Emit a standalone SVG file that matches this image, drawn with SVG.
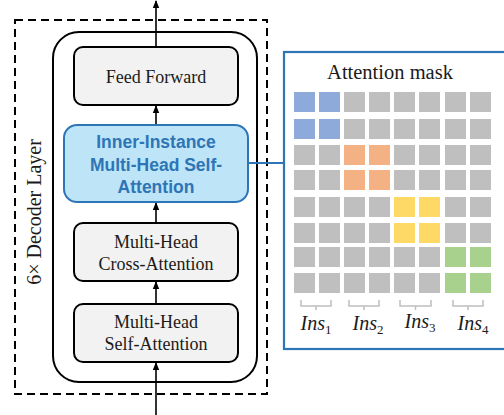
<svg xmlns="http://www.w3.org/2000/svg" width="504" height="415" viewBox="0 0 504 415">
<style>
.box{fill:#f2f2f2;stroke:#000;stroke-width:2}
.t{font-family:"Liberation Serif","Times New Roman",serif;font-size:18px;fill:#1a1a1a;text-anchor:middle}
.bt{font-family:"Liberation Sans",Arial,sans-serif;font-size:17.5px;font-weight:bold;fill:#2e75b6;text-anchor:middle}
.ar{stroke:#000;stroke-width:1.6;fill:none;marker-end:url(#ah)}
.g{fill:#bfbfbf}.b{fill:#8eaadb}.o{fill:#f4b183}.y{fill:#ffd966}.gr{fill:#a9d18e}
.br{fill:none;stroke:#bfbfbf;stroke-width:1.5}
.ins{font-family:"Liberation Serif","Times New Roman",serif;font-style:italic;font-size:20px;fill:#1a1a1a;text-anchor:middle}
</style>
<defs>
<marker id="ah" viewBox="0 0 8 8" refX="7" refY="4" markerWidth="8" markerHeight="8" markerUnits="userSpaceOnUse" orient="auto">
<path d="M0,0.8 L8,4 L0,7.2 z" fill="#000"/>
</marker>
</defs>
<g id="decoder-layer">
<rect x="15" y="20" width="252" height="374" fill="none" stroke="#000" stroke-width="2" stroke-dasharray="8,5"/>
<rect x="53" y="32" width="204" height="350" rx="26" fill="#fff" stroke="#000" stroke-width="2"/>
<text class="t" style="font-size:20px" transform="translate(41,212) rotate(-90)">6× Decoder Layer</text>
</g>
<g id="connectors">
<line class="ar" x1="156" y1="47" x2="156" y2="1"/>
<line class="ar" x1="156" y1="125" x2="156" y2="106"/>
<line class="ar" x1="156" y1="223" x2="156" y2="203"/>
<line class="ar" x1="156" y1="304" x2="156" y2="282"/>
<line class="ar" x1="156" y1="415" x2="156" y2="363"/>
<line x1="248" y1="163" x2="284" y2="163" stroke="#2e75b6" stroke-width="2"/>
</g>
<g id="feed-forward">
<rect class="box" x="74" y="47" width="164" height="58" rx="9"/>
<text class="t" x="156" y="83">Feed Forward</text>
</g>
<g id="inner-instance">
<rect x="64" y="125" width="184" height="77" rx="13" fill="#bde4f7" stroke="#2e75b6" stroke-width="2"/>
<text class="bt" x="156" y="148">Inner-Instance</text>
<text class="bt" x="156" y="171">Multi-Head Self-</text>
<text class="bt" x="156" y="193">Attention</text>
</g>
<g id="cross-attention">
<rect class="box" x="74" y="223" width="164" height="58" rx="9"/>
<text class="t" x="156" y="248">Multi-Head</text>
<text class="t" x="156" y="270">Cross-Attention</text>
</g>
<g id="self-attention">
<rect class="box" x="74" y="304" width="164" height="58" rx="9"/>
<text class="t" x="156" y="328">Multi-Head</text>
<text class="t" x="156" y="350">Self-Attention</text>
</g>
<g id="attention-mask">
<rect x="284" y="52" width="224" height="297" fill="#fff" stroke="#2e75b6" stroke-width="2.2"/>
<text class="t" x="390" y="79" style="font-size:20.5px">Attention mask</text>
<g>
<rect class="b" x="294" y="92" width="21" height="20"/><rect class="b" x="319" y="92" width="21" height="20"/><rect class="g" x="344" y="92" width="21" height="20"/><rect class="g" x="369" y="92" width="21" height="20"/><rect class="g" x="394" y="92" width="21" height="20"/><rect class="g" x="419" y="92" width="21" height="20"/><rect class="g" x="445" y="92" width="21" height="20"/><rect class="g" x="470" y="92" width="21" height="20"/>
<rect class="b" x="294" y="119" width="21" height="20"/><rect class="b" x="319" y="119" width="21" height="20"/><rect class="g" x="344" y="119" width="21" height="20"/><rect class="g" x="369" y="119" width="21" height="20"/><rect class="g" x="394" y="119" width="21" height="20"/><rect class="g" x="419" y="119" width="21" height="20"/><rect class="g" x="445" y="119" width="21" height="20"/><rect class="g" x="470" y="119" width="21" height="20"/>
<rect class="g" x="294" y="145" width="21" height="20"/><rect class="g" x="319" y="145" width="21" height="20"/><rect class="o" x="344" y="145" width="21" height="20"/><rect class="o" x="369" y="145" width="21" height="20"/><rect class="g" x="394" y="145" width="21" height="20"/><rect class="g" x="419" y="145" width="21" height="20"/><rect class="g" x="445" y="145" width="21" height="20"/><rect class="g" x="470" y="145" width="21" height="20"/>
<rect class="g" x="294" y="170" width="21" height="20"/><rect class="g" x="319" y="170" width="21" height="20"/><rect class="o" x="344" y="170" width="21" height="20"/><rect class="o" x="369" y="170" width="21" height="20"/><rect class="g" x="394" y="170" width="21" height="20"/><rect class="g" x="419" y="170" width="21" height="20"/><rect class="g" x="445" y="170" width="21" height="20"/><rect class="g" x="470" y="170" width="21" height="20"/>
<rect class="g" x="294" y="197" width="21" height="20"/><rect class="g" x="319" y="197" width="21" height="20"/><rect class="g" x="344" y="197" width="21" height="20"/><rect class="g" x="369" y="197" width="21" height="20"/><rect class="y" x="394" y="197" width="21" height="20"/><rect class="y" x="419" y="197" width="21" height="20"/><rect class="g" x="445" y="197" width="21" height="20"/><rect class="g" x="470" y="197" width="21" height="20"/>
<rect class="g" x="294" y="223" width="21" height="20"/><rect class="g" x="319" y="223" width="21" height="20"/><rect class="g" x="344" y="223" width="21" height="20"/><rect class="g" x="369" y="223" width="21" height="20"/><rect class="y" x="394" y="223" width="21" height="20"/><rect class="y" x="419" y="223" width="21" height="20"/><rect class="g" x="445" y="223" width="21" height="20"/><rect class="g" x="470" y="223" width="21" height="20"/>
<rect class="g" x="294" y="247" width="21" height="20"/><rect class="g" x="319" y="247" width="21" height="20"/><rect class="g" x="344" y="247" width="21" height="20"/><rect class="g" x="369" y="247" width="21" height="20"/><rect class="g" x="394" y="247" width="21" height="20"/><rect class="g" x="419" y="247" width="21" height="20"/><rect class="gr" x="445" y="247" width="21" height="20"/><rect class="gr" x="470" y="247" width="21" height="20"/>
<rect class="g" x="294" y="273" width="21" height="20"/><rect class="g" x="319" y="273" width="21" height="20"/><rect class="g" x="344" y="273" width="21" height="20"/><rect class="g" x="369" y="273" width="21" height="20"/><rect class="g" x="394" y="273" width="21" height="20"/><rect class="g" x="419" y="273" width="21" height="20"/><rect class="gr" x="445" y="273" width="21" height="20"/><rect class="gr" x="470" y="273" width="21" height="20"/>
</g>
<path class="br" d="M301,300 V306 H331 V300 M316,306 V310"/>
<path class="br" d="M349,300 V306 H379 V300 M364,306 V310"/>
<path class="br" d="M400,300 V306 H431 V300 M415.5,306 V310"/>
<path class="br" d="M453,300 V306 H483 V300 M468,306 V310"/>
<text class="ins" x="316" y="330">Ins<tspan font-style="normal" font-size="13" dy="4">1</tspan></text>
<text class="ins" x="368" y="330">Ins<tspan font-style="normal" font-size="13" dy="4">2</tspan></text>
<text class="ins" x="420" y="328">Ins<tspan font-style="normal" font-size="13" dy="4">3</tspan></text>
<text class="ins" x="473" y="330">Ins<tspan font-style="normal" font-size="13" dy="4">4</tspan></text>
</g>
</svg>
